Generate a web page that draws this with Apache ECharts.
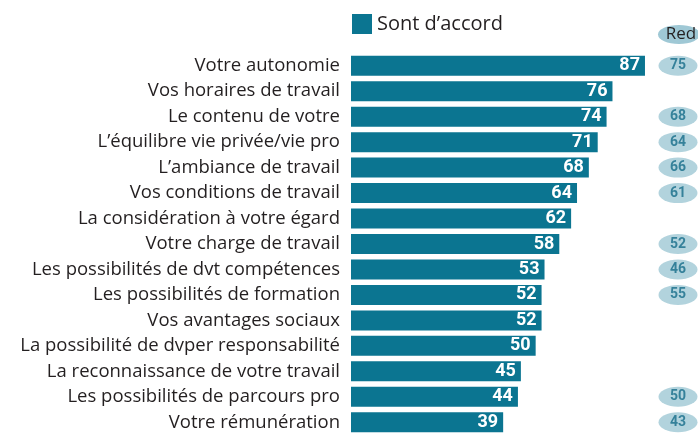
<!DOCTYPE html>
<html>
<head>
<meta charset="utf-8">
<script src="https://cdn.jsdelivr.net/npm/echarts@6/dist/echarts.min.js"></script>
<style>
  html, body { margin: 0; padding: 0; background: #fff; }
  #chart { width: 698px; height: 435px; }
</style>
</head>
<body>
<div id="chart"></div>
<script>
const categories = [
  'Votre autonomie',
  'Vos horaires de travail',
  'Le contenu de votre',
  'L’équilibre vie privée/vie pro',
  'L’ambiance de travail',
  'Vos conditions de travail',
  'La considération à votre égard',
  'Votre charge de travail',
  'Les possibilités de dvt compétences',
  'Les possibilités de formation',
  'Vos avantages sociaux',
  'La possibilité de dvper responsabilité',
  'La reconnaissance de votre travail',
  'Les possibilités de parcours pro',
  'Votre rémunération'
];
const accord = [87, 76, 74, 71, 68, 64, 62, 58, 53, 52, 52, 50, 45, 44, 39];
const redValues = [75, null, 68, 64, 66, 61, null, 52, 46, 55, null, null, null, 50, 43];
// bars in the original don't start at zero: every bar carries a fixed stub
const BASE_OFFSET = 12.5;

const TEAL = '#0b7591';
const PALE = '#9fc8d5';
const FONT = '"Open Sans", sans-serif';

const chart = echarts.init(document.getElementById('chart'));

const redPoints = redValues
  .map((v, i) => (v == null ? null : ['Red', categories[i], v]))
  .filter(Boolean);

chart.setOption({
  animation: false,
  legend: {
    data: ['Sont d’accord'],
    left: 347,
    top: 9,
    itemWidth: 20,
    itemHeight: 20,
    itemGap: 10,
    icon: 'rect',
    textStyle: { fontSize: 20, color: '#231f20', fontFamily: FONT }
  },
  grid: [
    { left: 351, top: 53, width: 325, height: 385 },
    { left: 659, top: 53, width: 38, height: 385 }
  ],
  xAxis: [
    { type: 'value', min: 0, max: 110, show: false, gridIndex: 0 },
    { type: 'category', data: ['Red'], show: false, gridIndex: 1 }
  ],
  yAxis: [
    {
      type: 'category',
      data: categories,
      inverse: true,
      gridIndex: 0,
      axisLine: { show: false },
      axisTick: { show: false },
      axisLabel: { margin: 11, fontSize: 18.5, color: '#231f20', fontFamily: FONT }
    },
    { type: 'category', data: categories, inverse: true, show: false, gridIndex: 1 }
  ],
  series: [
    {
      name: 'Sont d’accord',
      type: 'bar',
      barWidth: 20,
      itemStyle: { color: TEAL },
      label: {
        show: true,
        position: 'insideRight',
        distance: 5,
        color: '#fff',
        fontSize: 18,
        fontWeight: 'bold',
        fontFamily: 'Roboto, sans-serif',
        formatter: p => accord[p.dataIndex]
      },
      data: accord.map(v => v + BASE_OFFSET)
    },
    {
      name: 'Red',
      type: 'scatter',
      xAxisIndex: 1,
      yAxisIndex: 1,
      symbol: 'circle',
      symbolSize: [39, 20],
      itemStyle: { color: PALE },
      label: {
        show: true,
        position: 'inside',
        color: '#176d8a',
        fontSize: 14,
        fontWeight: 'bold',
        fontFamily: 'Roboto, sans-serif',
        formatter: p => p.value[2]
      },
      data: redPoints
    }
  ],
  graphic: [
    {
      type: 'group',
      left: 658,
      top: 25,
      children: [
        { type: 'circle', shape: { cx: 0, cy: 0, r: 10 }, x: 21, y: 10, scaleX: 2.1, scaleY: 0.95, style: { fill: PALE } },
        { type: 'text', x: 23, y: 10, style: { text: 'Red', fill: '#231f20', fontSize: 17, fontFamily: FONT, align: 'center', verticalAlign: 'middle' } }
      ]
    }
  ]
});
</script>
</body>
</html>
